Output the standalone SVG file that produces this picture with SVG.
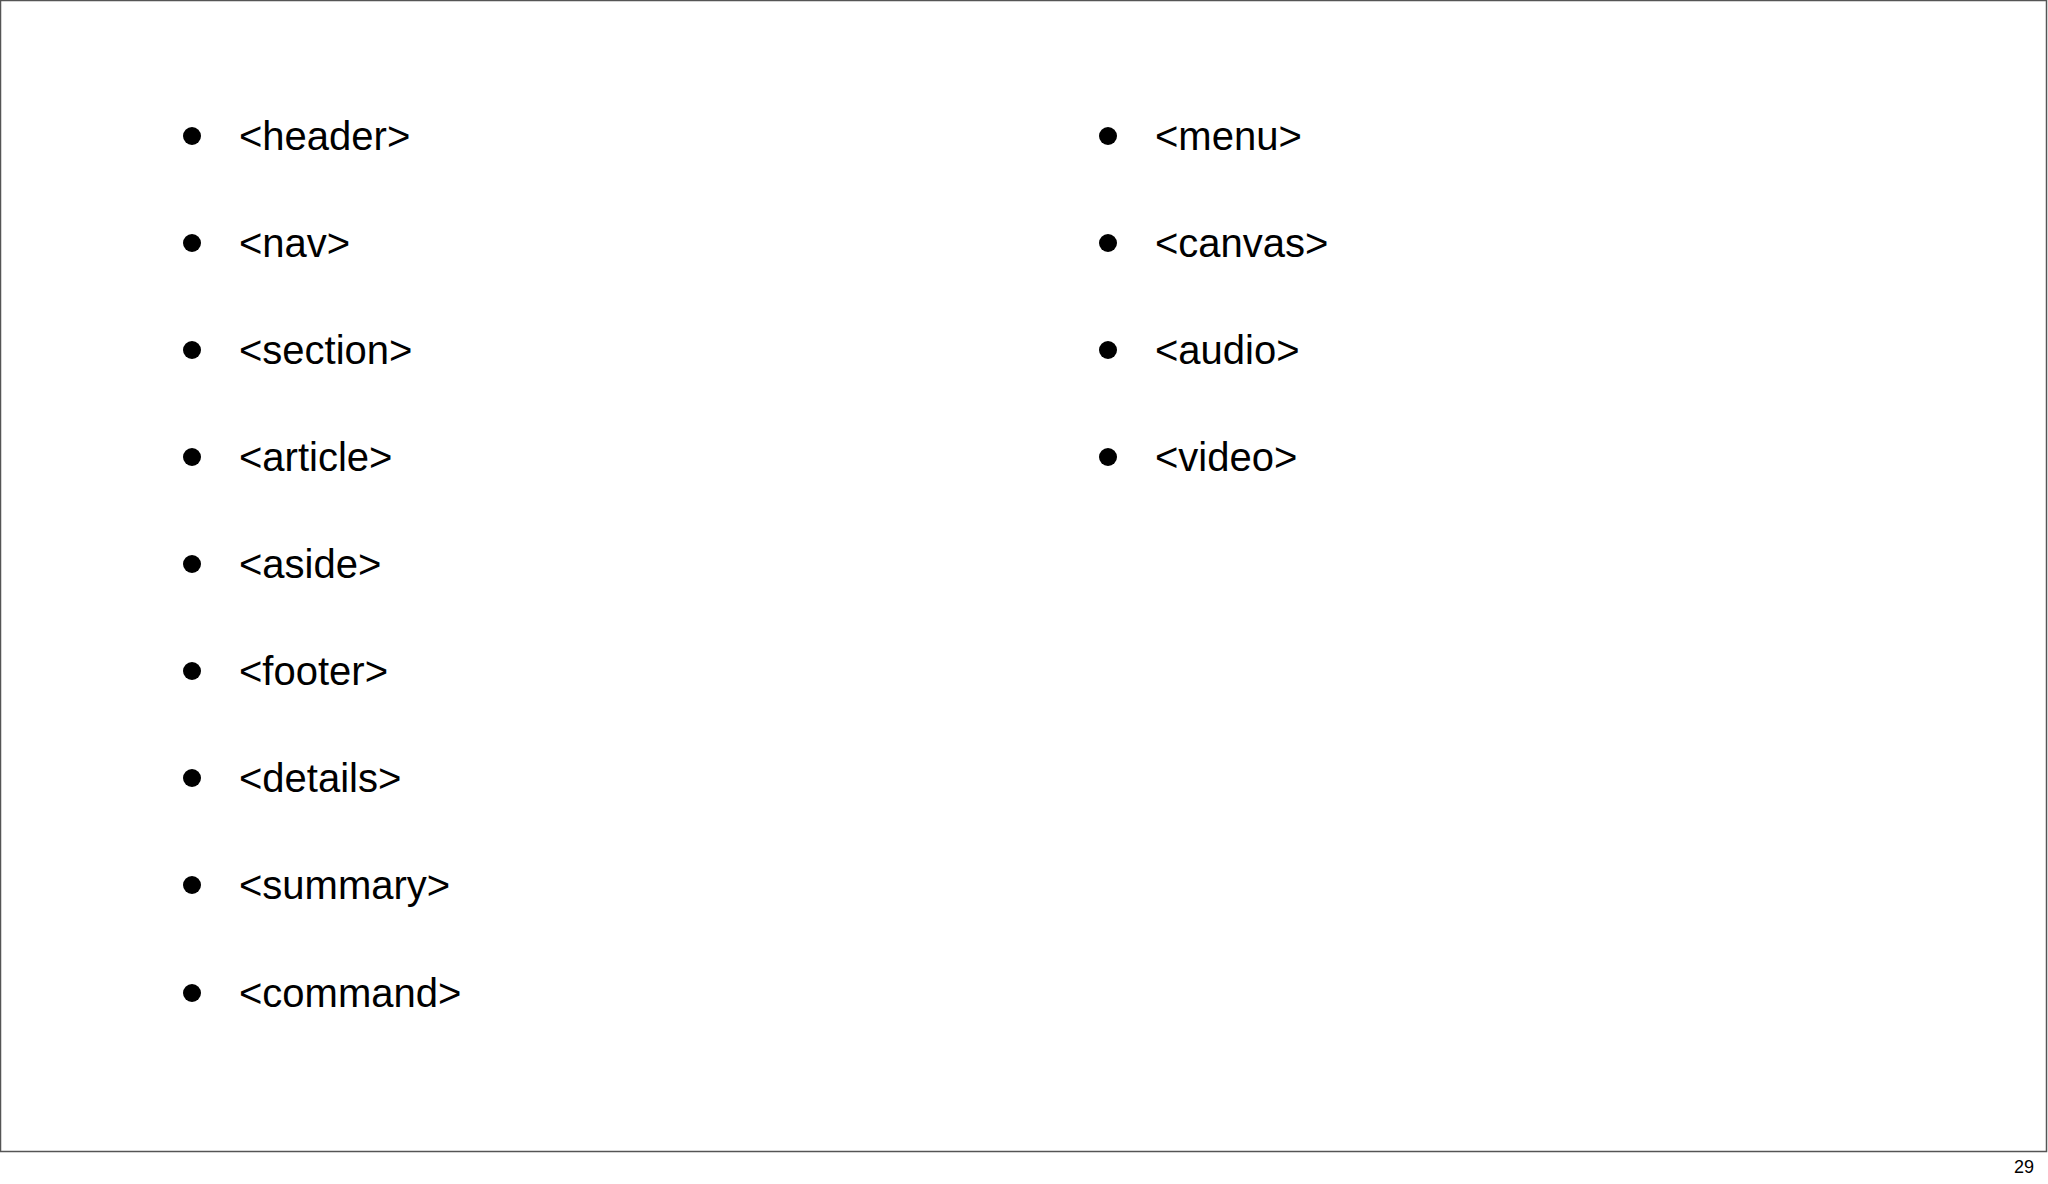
<svg xmlns="http://www.w3.org/2000/svg" width="2048" height="1184" viewBox="0 0 2048 1184">
<style>
.t{font-family:"Liberation Sans",Arial,sans-serif;font-size:40px;fill:#000}
.b{fill:#000}
.n{font-family:"Liberation Sans",Arial,sans-serif;font-size:18px;fill:#000}
</style>
<rect x="0" y="0" width="2048" height="1184" fill="#fff"/>
<rect x="0.5" y="0.5" width="2046" height="1151" fill="none" stroke="#555" stroke-width="1.5"/>
<g id="col1">
<g id="header"><circle class="b" cx="192" cy="136" r="9"/><text class="t" x="239" y="150">&lt;header&gt;</text></g>
<g id="nav"><circle class="b" cx="192" cy="243" r="9"/><text class="t" x="239" y="257">&lt;nav&gt;</text></g>
<g id="section"><circle class="b" cx="192" cy="350" r="9"/><text class="t" x="239" y="364">&lt;section&gt;</text></g>
<g id="article"><circle class="b" cx="192" cy="457" r="9"/><text class="t" x="239" y="471">&lt;article&gt;</text></g>
<g id="aside"><circle class="b" cx="192" cy="564" r="9"/><text class="t" x="239" y="578">&lt;aside&gt;</text></g>
<g id="footer"><circle class="b" cx="192" cy="671" r="9"/><text class="t" x="239" y="685">&lt;footer&gt;</text></g>
<g id="details"><circle class="b" cx="192" cy="778" r="9"/><text class="t" x="239" y="792">&lt;details&gt;</text></g>
<g id="summary"><circle class="b" cx="192" cy="885" r="9"/><text class="t" x="239" y="899">&lt;summary&gt;</text></g>
<g id="command"><circle class="b" cx="192" cy="993" r="9"/><text class="t" x="239" y="1007">&lt;command&gt;</text></g>
</g>
<g id="col2">
<g id="menu"><circle class="b" cx="1108" cy="136" r="9"/><text class="t" x="1155" y="150">&lt;menu&gt;</text></g>
<g id="canvas"><circle class="b" cx="1108" cy="243" r="9"/><text class="t" x="1155" y="257">&lt;canvas&gt;</text></g>
<g id="audio"><circle class="b" cx="1108" cy="350" r="9"/><text class="t" x="1155" y="364">&lt;audio&gt;</text></g>
<g id="video"><circle class="b" cx="1108" cy="457" r="9"/><text class="t" x="1155" y="471">&lt;video&gt;</text></g>
</g>
<g id="connectors"/>
<text class="n" x="2034" y="1173" text-anchor="end">29</text>
</svg>
